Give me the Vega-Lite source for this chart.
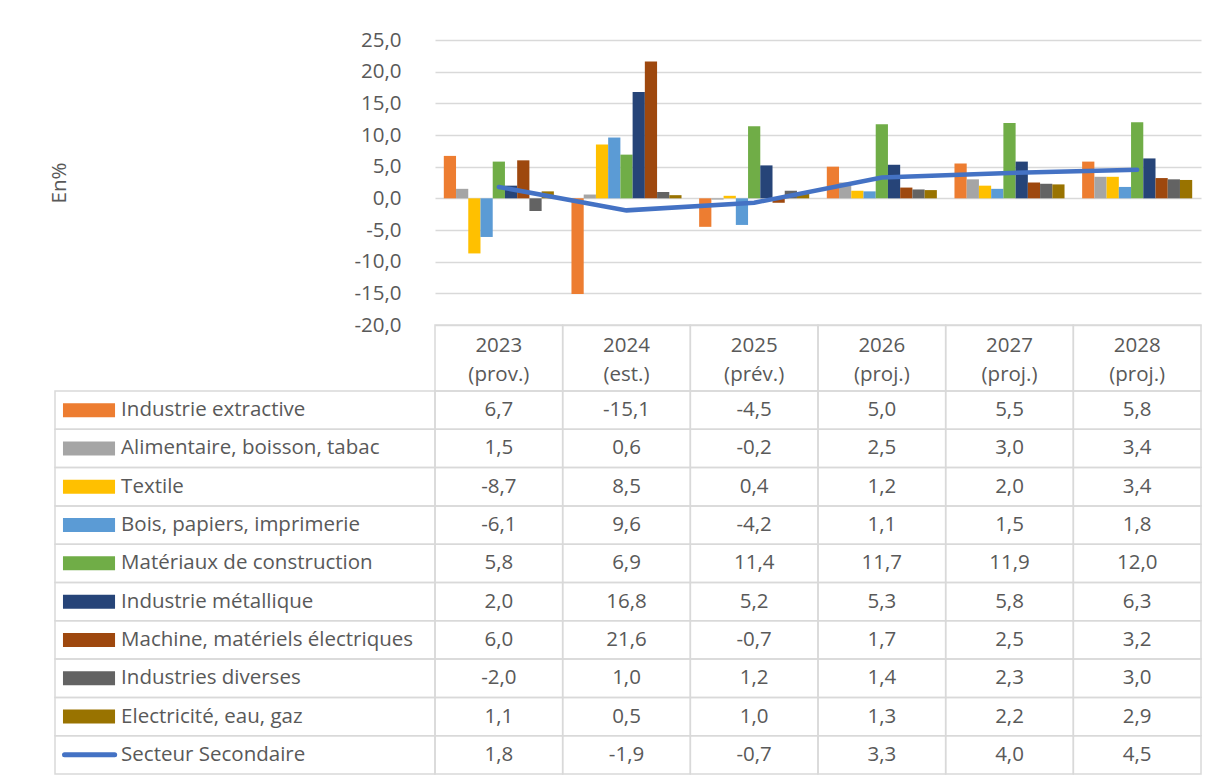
{
  "$schema": "https://vega.github.io/schema/vega-lite/v6.json",
  "padding": {"left": 49, "top": 30, "right": 10, "bottom": 5},
  "config": {
    "view": {"stroke": null},
    "font": "Open Sans",
    "locale": {"number": {"decimal": ",", "thousands": " ", "grouping": [3], "currency": ["", " €"], "minus": "-"}}
  },
  "datasets": {
    "years": [
      {"year": "2023", "label": "2023\n(prov.)"},
      {"year": "2024", "label": "2024\n(est.)"},
      {"year": "2025", "label": "2025\n(prév.)"},
      {"year": "2026", "label": "2026\n(proj.)"},
      {"year": "2027", "label": "2027\n(proj.)"},
      {"year": "2028", "label": "2028\n(proj.)"}
    ],
    "series": [
      {"series": "Industrie extractive", "kind": "bar"},
      {"series": "Alimentaire, boisson, tabac", "kind": "bar"},
      {"series": "Textile", "kind": "bar"},
      {"series": "Bois, papiers, imprimerie", "kind": "bar"},
      {"series": "Matériaux de construction", "kind": "bar"},
      {"series": "Industrie métallique", "kind": "bar"},
      {"series": "Machine, matériels  électriques", "kind": "bar"},
      {"series": "Industries diverses", "kind": "bar"},
      {"series": "Electricité, eau, gaz", "kind": "bar"},
      {"series": "Secteur Secondaire", "kind": "line"}
    ],
    "d": [
      {"year": "2023", "series": "Industrie extractive", "value": 6.7},
      {"year": "2024", "series": "Industrie extractive", "value": -15.1},
      {"year": "2025", "series": "Industrie extractive", "value": -4.5},
      {"year": "2026", "series": "Industrie extractive", "value": 5.0},
      {"year": "2027", "series": "Industrie extractive", "value": 5.5},
      {"year": "2028", "series": "Industrie extractive", "value": 5.8},
      {"year": "2023", "series": "Alimentaire, boisson, tabac", "value": 1.5},
      {"year": "2024", "series": "Alimentaire, boisson, tabac", "value": 0.6},
      {"year": "2025", "series": "Alimentaire, boisson, tabac", "value": -0.2},
      {"year": "2026", "series": "Alimentaire, boisson, tabac", "value": 2.5},
      {"year": "2027", "series": "Alimentaire, boisson, tabac", "value": 3.0},
      {"year": "2028", "series": "Alimentaire, boisson, tabac", "value": 3.4},
      {"year": "2023", "series": "Textile", "value": -8.7},
      {"year": "2024", "series": "Textile", "value": 8.5},
      {"year": "2025", "series": "Textile", "value": 0.4},
      {"year": "2026", "series": "Textile", "value": 1.2},
      {"year": "2027", "series": "Textile", "value": 2.0},
      {"year": "2028", "series": "Textile", "value": 3.4},
      {"year": "2023", "series": "Bois, papiers, imprimerie", "value": -6.1},
      {"year": "2024", "series": "Bois, papiers, imprimerie", "value": 9.6},
      {"year": "2025", "series": "Bois, papiers, imprimerie", "value": -4.2},
      {"year": "2026", "series": "Bois, papiers, imprimerie", "value": 1.1},
      {"year": "2027", "series": "Bois, papiers, imprimerie", "value": 1.5},
      {"year": "2028", "series": "Bois, papiers, imprimerie", "value": 1.8},
      {"year": "2023", "series": "Matériaux de construction", "value": 5.8},
      {"year": "2024", "series": "Matériaux de construction", "value": 6.9},
      {"year": "2025", "series": "Matériaux de construction", "value": 11.4},
      {"year": "2026", "series": "Matériaux de construction", "value": 11.7},
      {"year": "2027", "series": "Matériaux de construction", "value": 11.9},
      {"year": "2028", "series": "Matériaux de construction", "value": 12.0},
      {"year": "2023", "series": "Industrie métallique", "value": 2.0},
      {"year": "2024", "series": "Industrie métallique", "value": 16.8},
      {"year": "2025", "series": "Industrie métallique", "value": 5.2},
      {"year": "2026", "series": "Industrie métallique", "value": 5.3},
      {"year": "2027", "series": "Industrie métallique", "value": 5.8},
      {"year": "2028", "series": "Industrie métallique", "value": 6.3},
      {"year": "2023", "series": "Machine, matériels  électriques", "value": 6.0},
      {"year": "2024", "series": "Machine, matériels  électriques", "value": 21.6},
      {"year": "2025", "series": "Machine, matériels  électriques", "value": -0.7},
      {"year": "2026", "series": "Machine, matériels  électriques", "value": 1.7},
      {"year": "2027", "series": "Machine, matériels  électriques", "value": 2.5},
      {"year": "2028", "series": "Machine, matériels  électriques", "value": 3.2},
      {"year": "2023", "series": "Industries diverses", "value": -2.0},
      {"year": "2024", "series": "Industries diverses", "value": 1.0},
      {"year": "2025", "series": "Industries diverses", "value": 1.2},
      {"year": "2026", "series": "Industries diverses", "value": 1.4},
      {"year": "2027", "series": "Industries diverses", "value": 2.3},
      {"year": "2028", "series": "Industries diverses", "value": 3.0},
      {"year": "2023", "series": "Electricité, eau, gaz", "value": 1.1},
      {"year": "2024", "series": "Electricité, eau, gaz", "value": 0.5},
      {"year": "2025", "series": "Electricité, eau, gaz", "value": 1.0},
      {"year": "2026", "series": "Electricité, eau, gaz", "value": 1.3},
      {"year": "2027", "series": "Electricité, eau, gaz", "value": 2.2},
      {"year": "2028", "series": "Electricité, eau, gaz", "value": 2.9},
      {"year": "2023", "series": "Secteur Secondaire", "value": 1.8},
      {"year": "2024", "series": "Secteur Secondaire", "value": -1.9},
      {"year": "2025", "series": "Secteur Secondaire", "value": -0.7},
      {"year": "2026", "series": "Secteur Secondaire", "value": 3.3},
      {"year": "2027", "series": "Secteur Secondaire", "value": 4.0},
      {"year": "2028", "series": "Secteur Secondaire", "value": 4.5}
    ]
  },
  "columns": 2,
  "spacing": 0,
  "bounds": "flush",
  "resolve": {"scale": {"x": "independent", "y": "independent", "color": "independent", "xOffset": "independent"}},
  "concat": [
    {"width": 380, "height": 285, "data": {"values": []}, "mark": "point", "encoding": {}},
    {
      "width": 766, "height": 285,
      "data": {"name": "d"},
      "layer": [
        {
          "transform": [{"filter": "datum.series != 'Secteur Secondaire'"}],
          "mark": {"type": "bar"},
          "encoding": {
            "x": {"field": "year", "type": "nominal", "scale": {"paddingInner": 0, "paddingOuter": 0}, "axis": null},
            "xOffset": {"field": "series", "type": "nominal",
              "sort": ["Industrie extractive", "Alimentaire, boisson, tabac", "Textile", "Bois, papiers, imprimerie", "Matériaux de construction", "Industrie métallique", "Machine, matériels  électriques", "Industries diverses", "Electricité, eau, gaz"],
              "scale": {"paddingInner": 0, "paddingOuter": 0.72}},
            "y": {"field": "value", "type": "quantitative",
              "scale": {"domain": [-20, 25], "nice": false},
              "axis": {"values": [-20, -15, -10, -5, 0, 5, 10, 15, 20, 25], "tickCount": 10, "format": ".1f", "domain": false, "ticks": false,
                "labelOverlap": false, "labelPadding": 34, "labelFontSize": 20.5, "labelColor": "#595959",
                "gridColor": "#D9D9D9", "gridWidth": 1.5,
                "title": "En%", "titleFontSize": 20.5, "titleFontWeight": "normal", "titleColor": "#595959", "titleX": -366}},
            "color": {"field": "series", "type": "nominal",
              "scale": {"domain": ["Industrie extractive", "Alimentaire, boisson, tabac", "Textile", "Bois, papiers, imprimerie", "Matériaux de construction", "Industrie métallique", "Machine, matériels  électriques", "Industries diverses", "Electricité, eau, gaz", "Secteur Secondaire"],
                "range": ["#ED7D31", "#A5A5A5", "#FFC000", "#5B9BD5", "#70AD47", "#264478", "#9E480E", "#636363", "#997300", "#4472C4"]},
              "legend": null}
          }
        },
        {
          "transform": [{"filter": "datum.series == 'Secteur Secondaire'"}],
          "mark": {"type": "line", "color": "#4472C4", "strokeWidth": 4.5, "strokeCap": "round"},
          "encoding": {
            "x": {"field": "year", "type": "nominal"},
            "y": {"field": "value", "type": "quantitative"}
          }
        }
      ]
    },
    {"width": 380, "height": 66, "data": {"values": []}, "mark": "point", "encoding": {}},
    {
      "width": 766, "height": 66,
      "data": {"name": "years"},
      "layer": [
        {
          "mark": {"type": "rect", "fill": "transparent", "stroke": "#D9D9D9", "strokeWidth": 1.5},
          "encoding": {"x": {"field": "year", "type": "nominal", "scale": {"paddingInner": 0, "paddingOuter": 0}, "axis": null}}
        },
        {
          "mark": {"type": "text", "lineBreak": "\n", "lineHeight": 29, "dy": -12.5, "fontSize": 20.5, "color": "#595959"},
          "encoding": {"x": {"field": "year", "type": "nominal", "axis": null}, "text": {"field": "label"}}
        }
      ]
    },
    {
      "width": 380, "height": 383,
      "data": {"name": "series"},
      "layer": [
        {
          "mark": {"type": "rect", "fill": "transparent", "stroke": "#D9D9D9", "strokeWidth": 1.5},
          "encoding": {"y": {"field": "series", "type": "nominal",
            "sort": ["Industrie extractive", "Alimentaire, boisson, tabac", "Textile", "Bois, papiers, imprimerie", "Matériaux de construction", "Industrie métallique", "Machine, matériels  électriques", "Industries diverses", "Electricité, eau, gaz", "Secteur Secondaire"],
            "scale": {"paddingInner": 0, "paddingOuter": 0}, "axis": null}}
        },
        {
          "transform": [{"filter": "datum.kind == 'bar'"}],
          "mark": {"type": "rule", "strokeWidth": 14},
          "encoding": {
            "y": {"field": "series", "type": "nominal",
              "sort": ["Industrie extractive", "Alimentaire, boisson, tabac", "Textile", "Bois, papiers, imprimerie", "Matériaux de construction", "Industrie métallique", "Machine, matériels  électriques", "Industries diverses", "Electricité, eau, gaz", "Secteur Secondaire"]},
            "x": {"datum": 2.1, "type": "quantitative", "scale": {"domain": [0, 100], "nice": false}, "axis": null},
            "x2": {"datum": 15.8},
            "color": {"field": "series", "type": "nominal",
              "scale": {"domain": ["Industrie extractive", "Alimentaire, boisson, tabac", "Textile", "Bois, papiers, imprimerie", "Matériaux de construction", "Industrie métallique", "Machine, matériels  électriques", "Industries diverses", "Electricité, eau, gaz", "Secteur Secondaire"],
                "range": ["#ED7D31", "#A5A5A5", "#FFC000", "#5B9BD5", "#70AD47", "#264478", "#9E480E", "#636363", "#997300", "#4472C4"]},
              "legend": null}
          }
        },
        {
          "transform": [{"filter": "datum.kind == 'line'"}],
          "mark": {"type": "rule", "strokeWidth": 5, "strokeCap": "round", "color": "#4472C4"},
          "encoding": {
            "y": {"field": "series", "type": "nominal",
              "sort": ["Industrie extractive", "Alimentaire, boisson, tabac", "Textile", "Bois, papiers, imprimerie", "Matériaux de construction", "Industrie métallique", "Machine, matériels  électriques", "Industries diverses", "Electricité, eau, gaz", "Secteur Secondaire"]},
            "x": {"datum": 2.5, "type": "quantitative"},
            "x2": {"datum": 15.7}
          }
        },
        {
          "mark": {"type": "text", "align": "left", "fontSize": 20.5, "color": "#595959"},
          "encoding": {
            "y": {"field": "series", "type": "nominal",
              "sort": ["Industrie extractive", "Alimentaire, boisson, tabac", "Textile", "Bois, papiers, imprimerie", "Matériaux de construction", "Industrie métallique", "Machine, matériels  électriques", "Industries diverses", "Electricité, eau, gaz", "Secteur Secondaire"]},
            "x": {"datum": 17.4, "type": "quantitative"},
            "text": {"field": "series"}
          }
        }
      ]
    },
    {
      "width": 766, "height": 383,
      "data": {"name": "d"},
      "layer": [
        {
          "mark": {"type": "rect", "fill": "transparent", "stroke": "#D9D9D9", "strokeWidth": 1.5},
          "encoding": {
            "x": {"field": "year", "type": "nominal", "scale": {"paddingInner": 0, "paddingOuter": 0}, "axis": null},
            "y": {"field": "series", "type": "nominal",
              "sort": ["Industrie extractive", "Alimentaire, boisson, tabac", "Textile", "Bois, papiers, imprimerie", "Matériaux de construction", "Industrie métallique", "Machine, matériels  électriques", "Industries diverses", "Electricité, eau, gaz", "Secteur Secondaire"],
              "scale": {"paddingInner": 0, "paddingOuter": 0}, "axis": null}
          }
        },
        {
          "mark": {"type": "text", "fontSize": 20.5, "color": "#595959"},
          "encoding": {
            "x": {"field": "year", "type": "nominal"},
            "y": {"field": "series", "type": "nominal",
              "sort": ["Industrie extractive", "Alimentaire, boisson, tabac", "Textile", "Bois, papiers, imprimerie", "Matériaux de construction", "Industrie métallique", "Machine, matériels  électriques", "Industries diverses", "Electricité, eau, gaz", "Secteur Secondaire"]},
            "text": {"field": "value", "type": "quantitative", "format": ".1f"}
          }
        }
      ]
    }
  ]
}
